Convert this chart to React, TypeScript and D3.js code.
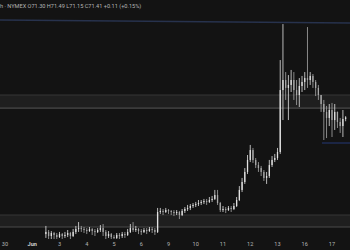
import React from 'react';
import * as d3 from 'd3';

const W = 350;
const H = 250;

// x-axis tick labels, one per trading day (day index 0..12)
const dayLabels = ['30', 'Jun', '3', '4', '5', '6', '9', '10', '11', '12', '13', '16', '17'];
const legendText = 'h · NYMEX  O71.30  H71.49  L71.15  C71.41  +0.11 (+0.15%)';

// bars: first bar at day 1.5, 10 bars per day
const firstBarDay = 1.5;
const barsPerDay = 10;
const firstOpen = 63.63;

const closes = [
  63.77, 63.5, 63.7, 63.57, 63.43, 63.63, 63.5, 63.57, 63.7, 63.5,
  63.77, 63.97, 64.03, 63.97, 63.9, 63.83, 63.97, 63.83, 63.77, 63.9,
  64.03, 63.77, 63.5, 63.63, 63.43, 63.37, 63.57, 63.5, 63.63, 63.57,
  63.77, 64.03, 63.9, 63.97, 63.83, 63.77, 63.9, 63.83, 63.97, 63.9,
  63.77, 65.1, 65.17, 65.1, 65.23, 65.17, 65.1, 65.03, 65.1, 64.9,
  65.17, 65.3, 65.37, 65.5, 65.57, 65.63, 65.7, 65.77, 65.83, 65.77,
  65.9, 65.97, 66.23, 65.7, 65.23, 65.3, 65.23, 65.37, 65.3, 65.5,
  65.9, 66.57, 67.1, 67.77, 68.57, 69.23, 68.57, 68.23, 68.03, 67.77,
  67.37, 67.5, 68.23, 68.57, 68.7, 69.1, 73.23, 73.9, 73.37, 73.57,
  73.9, 73.23, 72.9, 73.5, 73.77, 74.03, 73.9, 74.17, 73.77, 73.37,
  72.9, 72.3, 71.77, 71.37, 71.9, 71.23, 71.77, 71.1, 70.83, 71.3, 71.41,
];

const highs = [
  64.17, 63.9, 63.83, 63.77, 63.7, 63.77, 63.7, 63.77, 63.9, 63.77,
  63.97, 64.17, 64.43, 64.17, 64.1, 64.03, 64.1, 64.03, 63.97, 64.03,
  64.23, 64.3, 63.9, 63.83, 63.7, 63.57, 63.7, 63.7, 63.77, 63.77,
  63.97, 64.3, 64.43, 64.17, 64.03, 63.97, 64.03, 64.03, 64.1, 64.1,
  64.03, 65.37, 65.37, 65.3, 65.37, 65.3, 65.23, 65.23, 65.23, 65.17,
  65.3, 65.43, 65.57, 65.63, 65.7, 65.77, 65.9, 65.9, 65.97, 65.97,
  66.1, 66.17, 66.57, 66.57, 65.77, 65.5, 65.43, 65.5, 65.5, 65.7,
  66.1, 66.83, 67.37, 68.03, 68.9, 69.57, 69.37, 68.7, 68.43, 68.17,
  67.9, 67.77, 68.57, 68.83, 68.97, 69.37, 75.23, 77.63, 74.43, 74.23,
  74.57, 74.43, 73.9, 74.03, 74.17, 74.43, 77.43, 74.43, 74.3, 73.9,
  73.57, 72.9, 72.57, 72.17, 72.3, 72.37, 72.3, 71.8, 71.37, 71.9, 71.49,
];

const lows = [
  63.37, 63.23, 63.3, 63.3, 63.23, 63.37, 63.3, 63.37, 63.43, 63.3,
  63.43, 63.63, 63.77, 63.77, 63.7, 63.63, 63.77, 63.57, 63.5, 63.7,
  63.77, 63.5, 63.3, 63.37, 63.23, 63.17, 63.3, 63.3, 63.37, 63.37,
  63.5, 63.7, 63.77, 63.77, 63.63, 63.57, 63.7, 63.63, 63.77, 63.7,
  63.57, 63.7, 64.97, 64.9, 65.03, 64.97, 64.9, 64.83, 64.9, 64.63,
  64.83, 65.03, 65.17, 65.23, 65.37, 65.43, 65.5, 65.57, 65.63, 65.57,
  65.7, 65.77, 65.9, 65.57, 65.1, 65.1, 65.03, 65.17, 65.1, 65.23,
  65.43, 65.83, 66.43, 66.97, 67.63, 68.43, 68.37, 68.03, 67.77, 67.5,
  67.17, 66.97, 67.37, 68.1, 68.43, 68.57, 68.97, 71.23, 72.57, 71.23,
  73.1, 72.57, 72.23, 72.1, 73.1, 73.23, 73.37, 73.57, 73.37, 72.83,
  72.57, 71.77, 69.9, 70.03, 70.83, 70.1, 70.57, 70.7, 70.37, 70.1, 71.15,
];

// drawn zones (top/bottom prices)
const zoneTops = [72.9, 64.9];
const zoneBottoms = [72.03, 64.1];

// drawn trend lines: [day, price]
const resistanceDays = [-0.2, 12.7];
const resistancePrices = [77.9, 77.7];
const supportDays = [11.63, 12.7];
const supportPrices = [69.7, 69.7];

export default function App() {
  const x = d3.scaleLinear().domain([0, 12]).range([5, 332]);
  const y = d3.scaleLinear().domain([62.5, 78.5]).range([251, 11]);

  const bars = closes.map((c, i) => {
    const o = i === 0 ? firstOpen : closes[i - 1];
    const t = firstBarDay + i / barsPerDay;
    return { t, o, c, h: highs[i], l: lows[i] };
  });

  const bodyW = 1.3;
  const line = d3
    .line<[number, number]>()
    .x((d) => x(d[0]))
    .y((d) => y(d[1]));

  const resPts: [number, number][] = resistanceDays.map((d, i) => [d, resistancePrices[i]]);
  const supPts: [number, number][] = supportDays.map((d, i) => [d, supportPrices[i]]);

  return (
    <svg
      width={W}
      height={H}
      style={{ position: 'fixed', left: 0, top: 0, display: 'block' }}
      fontFamily="Roboto, 'Liberation Sans', sans-serif"
    >
      <defs>
        <clipPath id="pane">
          <rect x={0} y={0} width={W} height={239} />
        </clipPath>
      </defs>
      <rect x={0} y={0} width={W} height={H} fill="#131313" />

      {zoneTops.map((top, i) => (
        <g key={'z' + i}>
          <rect
            x={0}
            y={y(top)}
            width={W}
            height={y(zoneBottoms[i]) - y(top)}
            fill="#1f1f1f"
          />
          <line x1={0} x2={W} y1={y(top)} y2={y(top)} stroke="#363636" strokeWidth={1.2} />
          <line
            x1={0}
            x2={W}
            y1={y(zoneBottoms[i])}
            y2={y(zoneBottoms[i])}
            stroke="#4a4a4a"
            strokeWidth={1.2}
          />
        </g>
      ))}

      <path d={line(resPts) || ''} stroke="#27324d" strokeWidth={1.6} fill="none" />
      <path d={line(supPts) || ''} stroke="#1f2b52" strokeWidth={1.6} fill="none" />

      <g clipPath="url(#pane)">
        {bars.map((b, i) => {
          const cx = x(b.t);
          const up = b.c >= b.o;
          const col = up ? '#e2e2e2' : '#a8a8a8';
          const yTop = y(Math.max(b.o, b.c));
          const yBot = y(Math.min(b.o, b.c));
          return (
            <g key={i}>
              <line x1={cx} x2={cx} y1={y(b.h)} y2={y(b.l)} stroke={col} strokeWidth={0.8} />
              <rect
                x={cx - bodyW / 2}
                y={yTop}
                width={bodyW}
                height={Math.max(1, yBot - yTop)}
                fill={col}
              />
            </g>
          );
        })}
      </g>

      <text x={0} y={8} fontSize={5.6} fill="#b4b4b4">
        {legendText}
      </text>

      {dayLabels.map((lab, i) => (
        <text
          key={lab + i}
          x={x(i)}
          y={246}
          fontSize={5.6}
          fill={lab === 'Jun' ? '#d0d0d0' : '#b4b4b4'}
          textAnchor="middle"
          fontWeight={lab === 'Jun' ? 'bold' : 'normal'}
        >
          {lab}
        </text>
      ))}
    </svg>
  );
}
